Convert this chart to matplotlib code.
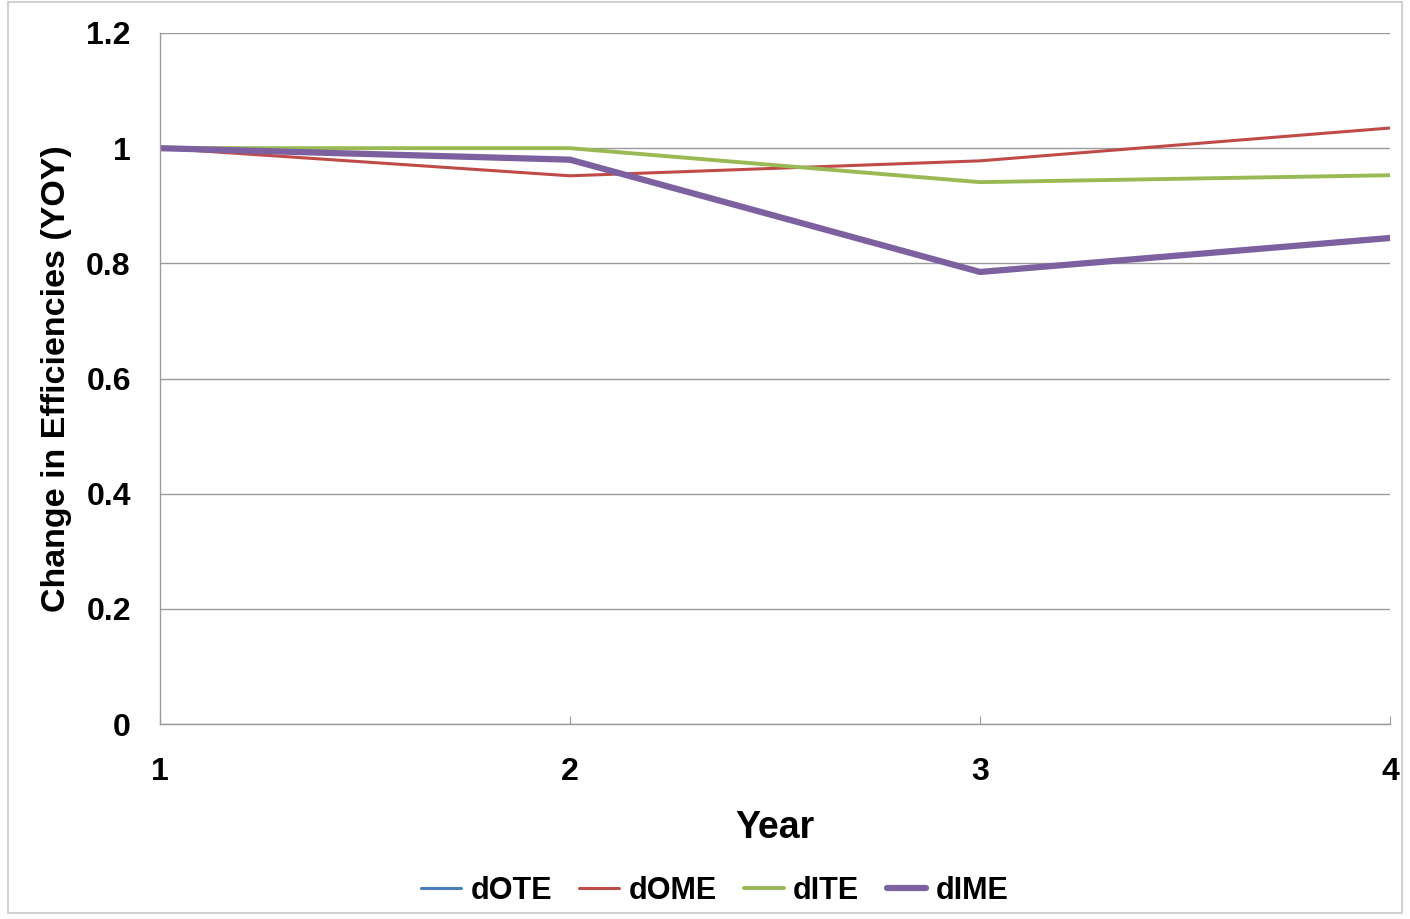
import matplotlib
matplotlib.use("Agg")
import matplotlib.pyplot as plt
from matplotlib.patches import Rectangle

plt.rcParams['font.family'] = ['Liberation Sans', 'DejaVu Sans']

years = [1, 2, 3, 4]
dOTE = [1.0, 0.980, 0.785, 0.844]
dOME = [1.0, 0.952, 0.978, 1.035]
dITE = [1.0, 1.0, 0.941, 0.953]
dIME = [1.0, 0.980, 0.785, 0.844]

y_ticks = [0, 0.2, 0.4, 0.6, 0.8, 1.0, 1.2]
y_tick_labels = ['0', '0.2', '0.4', '0.6', '0.8', '1', '1.2']
x_tick_labels = ['1', '2', '3', '4']

fig = plt.figure(figsize=(14.1, 9.19), dpi=100)
fig.patches.append(Rectangle((8 / 1410, 6 / 919), 1 - 16 / 1410, 1 - 8 / 919,
                             transform=fig.transFigure, fill=False,
                             edgecolor='#c8c8c8', lw=1.2))

ax = fig.add_axes([160 / 1410, 1 - 724 / 919, 1230 / 1410, 691 / 919])

ax.plot(years, dOTE, color='#4a7ebb', lw=2.2, label='dOTE', solid_capstyle='round')
ax.plot(years, dOME, color='#be4b48', lw=2.2, label='dOME', solid_capstyle='round')
ax.plot(years, dITE, color='#98b954', lw=2.8, label='dITE', solid_capstyle='round')
ax.plot(years, dIME, color='#7d60a0', lw=4.5, label='dIME', solid_capstyle='round')

ax.set_xlim(1, 4)
ax.set_ylim(0, 1.2)
ax.set_yticks(y_ticks)
ax.set_yticklabels(y_tick_labels)
ax.set_xticks(years)
ax.set_xticklabels(x_tick_labels)
ax.grid(axis='y', color='#9a9a9a', lw=1.0)
ax.set_axisbelow(True)

for s in ['top', 'right']:
    ax.spines[s].set_visible(False)
for s in ['left', 'bottom']:
    ax.spines[s].set_color('#9a9a9a')
    ax.spines[s].set_linewidth(1.0)

ax.tick_params(axis='y', length=0, pad=21, labelsize=23)
ax.tick_params(axis='x', direction='in', length=6, color='#9a9a9a', pad=24, labelsize=23)
for lab in ax.get_xticklabels() + ax.get_yticklabels():
    lab.set_fontweight('bold')

ax.set_xlabel('Year', fontsize=27, fontweight='bold', labelpad=16)
ax.set_ylabel('Change in Efficiencies (YOY)', fontsize=24.5, fontweight='bold', labelpad=10)

leg = fig.legend(loc='center', bbox_to_anchor=(715 / 1410, 1 - 891 / 919), ncol=4,
                 frameon=False, prop={'size': 22, 'weight': 'bold'},
                 handlelength=1.3, handletextpad=0.3, columnspacing=0.9)

fig.savefig('out.png', dpi=100)
